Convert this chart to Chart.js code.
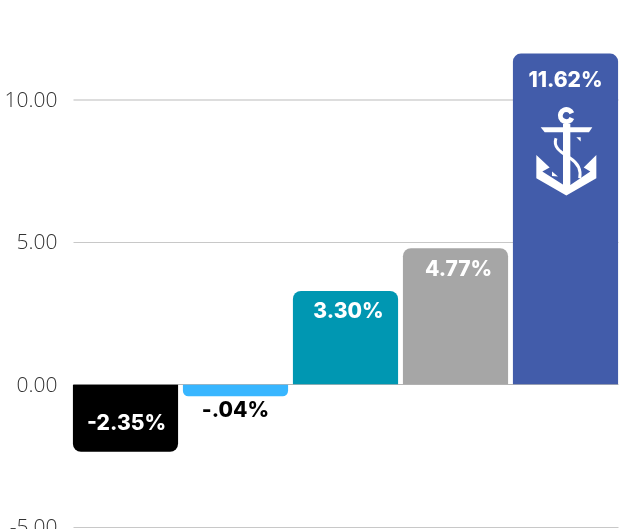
<!DOCTYPE html>
<html lang="en">
<head>
  <meta charset="UTF-8" />
  <title>Returns</title>
  <script src="https://cdn.jsdelivr.net/npm/chart.js"></script>
  <style>
    html, body { margin: 0; padding: 0; background: #fff; overflow: hidden; }
    canvas { display: block; }
  </style>
</head>
<body>
  <canvas id="returnsChart" width="621" height="529"></canvas>

  <script>
    const categories = ["A", "B", "C", "D", "E"];
    // the second bar is drawn longer than its printed label says, as in the picture
    const barValues = [-2.35, -0.4, 3.27, 4.77, 11.6];
    const barLabels = ["-2.35%", "-.04%", "3.30%", "4.77%", "11.62%"];
    const yTicks = [-5, 0, 5, 10];

    const barColors = ["#000000", "#38b6ff", "#0097b2", "#a6a6a6", "#425caa"];
    const labelColors = ["#ffffff", "#000000", "#ffffff", "#ffffff", "#ffffff"];

    // label nudges from the bar's end, in pixels
    const labelDx = [1, 0, 3, 3, 0];
    const labelDy = [-28, 15, 20, 21, 27];

    // anchor logo, drawn in the top bar
    function drawAnchor(ctx, left, top) {
      ctx.save();
      ctx.translate(left, top - 4);
      ctx.scale(1 / 3, 1 / 3);
      ctx.fillStyle = "#ffffff";
      ctx.strokeStyle = "#ffffff";

      ctx.lineWidth = 15;
      ctx.beginPath();
      ctx.arc(160, 197, 18, 0.4, Math.PI * 2 - 0.4);
      ctx.stroke();

      ctx.fillRect(150, 222, 22, 200);

      ctx.fill(new Path2D("M83 232H238L228 247H95Z"));
      ctx.fill(new Path2D("M70 315L110 353L88 365L152 405H172L232 365L212 353L250 315V385L160 437L70 385Z"));
      ctx.fill(new Path2D("M190 262H203V275Z"));
      ctx.fill(new Path2D("M117 365L135 380L117 378Z"));

      ctx.lineWidth = 9;
      ctx.beginPath();
      ctx.moveTo(129, 265);
      ctx.bezierCurveTo(118, 295, 150, 310, 172, 325);
      ctx.bezierCurveTo(195, 340, 205, 360, 200, 385);
      ctx.stroke();

      ctx.restore();
    }

    const barLabelPlugin = {
      id: "barLabelPlugin",
      afterDatasetsDraw(chart) {
        const ctx = chart.ctx;
        const bars = chart.getDatasetMeta(0).data;
        ctx.save();
        ctx.font = "800 21px Inter, sans-serif";
        ctx.textAlign = "center";
        ctx.textBaseline = "middle";
        bars.forEach((bar, i) => {
          ctx.fillStyle = labelColors[i];
          ctx.fillText(barLabels[i], bar.x + labelDx[i], bar.y + labelDy[i]);
        });
        ctx.restore();
        const last = bars[bars.length - 1];
        drawAnchor(ctx, last.x - 52.5, last.y);
      }
    };

    new Chart(document.getElementById("returnsChart"), {
      type: "bar",
      data: {
        labels: categories,
        datasets: [{
          data: barValues,
          backgroundColor: barColors,
          borderRadius: 8,
          borderSkipped: "start",
          barThickness: 104.5
        }]
      },
      options: {
        responsive: false,
        animation: false,
        layout: { padding: { top: 42.5, bottom: 2, left: 0, right: 0.5 } },
        plugins: {
          legend: { display: false },
          tooltip: { enabled: false }
        },
        scales: {
          x: {
            display: false
          },
          y: {
            min: -5,
            max: 12,
            afterFit(scale) {
              scale.width = 70.5;
              // the -5.00 label runs off the bottom edge, so no room is kept for it
              scale.paddingTop = 0;
              scale.paddingBottom = 0;
            },
            afterBuildTicks(scale) { scale.ticks = yTicks.map(v => ({ value: v })); },
            // grid lines stop short of the plot area at both ends
            border: { display: false, dash: [0, 2.5, 545, 100] },
            grid: {
              color: ctx => ctx.tick.value === 10 ? "#dddddd" : ctx.tick.value === 0 ? "#b5b5b5" : "#c8c8c8",
              lineWidth: ctx => ctx.tick.value === 10 ? 2 : 1,
              drawTicks: false
            },
            ticks: {
              padding: 13,
              labelOffset: 1.5,
              color: "#333333",
              font: { family: "'Open Sans'", size: 21, weight: "300" },
              callback: value => value.toFixed(2)
            }
          }
        }
      },
      plugins: [barLabelPlugin]
    });
  </script>
</body>
</html>
